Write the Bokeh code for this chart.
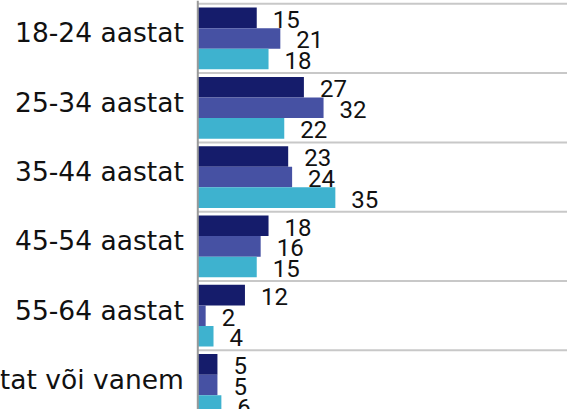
from bokeh.plotting import figure
from bokeh.models import ColumnDataSource, Range1d, Span
from bokeh.core.properties import value
from bokeh.embed import file_html
from bokeh.resources import INLINE

# ---- data ----
categories = ["18-24 aastat", "25-34 aastat", "35-44 aastat",
              "45-54 aastat", "55-64 aastat", "65 aastat või vanem"]
series_1 = [15, 27, 23, 18, 12, 5]
series_2 = [21, 32, 24, 16, 2, 5]
series_3 = [18, 22, 35, 15, 4, 6]

colors = ["#151c6b", "#4651a3", "#3eb2cf"]
series = [series_1, series_2, series_3]

# ---- layout constants ----
bar_h = 0.297
offsets = [bar_h, 0.0, -bar_h]

p = figure(width=567, height=409, output_backend="svg", toolbar_location=None,
           x_axis_location=None, y_axis_location=None,
           x_range=Range1d(-50.2, 94.07), y_range=Range1d(-5.354, 0.548),
           min_border=0, outline_line_color=None)
p.grid.visible = False
p.background_fill_color = "white"
p.border_fill_color = "white"

n = len(categories)
centers = [-i for i in range(n)]

# separators between category bands
sep_y = [c + 0.5 for c in centers] + [centers[-1] - 0.5]
p.segment(x0=[0] * len(sep_y), x1=[200] * len(sep_y), y0=sep_y, y1=sep_y,
          line_color="#c8c8c8", line_width=2)

# bars and value labels
for vals, off, col in zip(series, offsets, colors):
    src = ColumnDataSource(dict(
        y=[c + off for c in centers],
        v=vals,
        lab=[str(v) for v in vals],
    ))
    p.hbar(y="y", left=0, right="v", height=bar_h, source=src,
           fill_color=col, line_color=None)
    p.text(x="v", y="y", text="lab", source=src, x_offset=16, y_offset=1.5,
           text_align="left", text_baseline="alphabetic",
           text_font=value("Roboto"), text_font_size="24px",
           text_color="#111111")

# category labels
cat_src = ColumnDataSource(dict(x=[0] * n, y=centers, t=categories))
p.text(x="x", y="y", text="t", source=cat_src, x_offset=-14, y_offset=-5.5,
       text_align="right", text_baseline="alphabetic",
       text_font=value("DejaVu Sans"), text_font_size="26.5px",
       text_color="#111111")

# vertical axis line
p.add_layout(Span(location=0, dimension="height", line_color="#999999",
                  line_width=2))

open("out.html", "w").write(file_html(p, INLINE))
